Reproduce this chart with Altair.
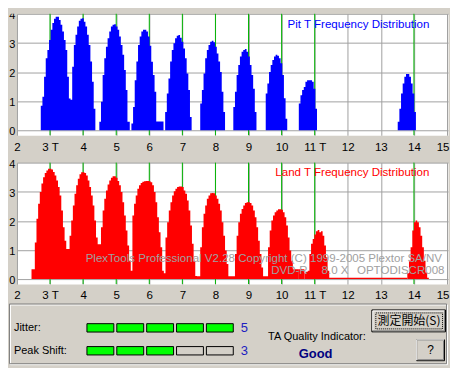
import altair as alt
import pandas as pd

# ---------------- data ----------------
STEP = 0.05                      # histogram bin width in T
T_TICKS = list(range(2, 16))
Y_TICKS = [0, 1, 2, 3, 4]
GREEN_T = [3, 4, 5, 6, 7, 8, 9, 10, 11, 14]

# Pit (blue) distribution: first-bin position (T), contiguous group, bin heights
PIT_START = [2.67, 3.67, 4.44, 5.41, 6.43, 7.49, 8.40, 8.49, 9.37, 9.47, 10.47, 13.46]
PIT_GROUP = [0, 0, 1, 2, 3, 4, 5, 6, 7, 8, 9, 10]
PIT_3T = [0, 0.84, 1.15, 1.84, 2.47, 2.76, 3.10, 3.45, 3.68, 3.83, 3.90, 3.90, 3.79, 3.62, 3.39, 3.10, 2.76, 1.84, 1.09, 1.05]
PIT_4T = [2.18, 2.93, 3.28, 3.56, 3.76, 3.83, 3.85, 3.73, 3.56, 3.28, 2.93, 2.36, 1.67, 0.74, 0]
PIT_5T = [0, 0.29, 0.98, 1.90, 2.47, 2.87, 3.16, 3.39, 3.56, 3.62, 3.64, 3.56, 3.45, 3.22, 2.93, 2.59, 2.07, 1.38, 0.29]
PIT_6T = [0, 0.23, 0.80, 1.72, 2.36, 2.93, 3.22, 3.39, 3.45, 3.45, 3.39, 3.22, 2.90, 2.35, 1.90, 1.32, 0.30]
PIT_7T = [0, 0.63, 1.26, 1.78, 2.36, 2.76, 2.99, 3.16, 3.25, 3.27, 3.18, 3.04, 2.81, 2.47, 1.95, 1.38, 0.46, 0]
PIT_8T = [0, 0.92, 1.38, 1.95, 2.47, 2.76, 2.93, 3.04, 3.07, 3.02, 2.87, 2.64, 2.36, 2.00, 1.32, 0.63, 0]
PIT_DOT_A = [0]
PIT_9T = [0, 0.80, 1.32, 1.90, 2.24, 2.53, 2.70, 2.76, 2.79, 2.70, 2.53, 2.24, 1.90, 1.43, 0.63, 0]
PIT_DOT_B = [0]
PIT_10T = [0, 1.26, 1.61, 2.00, 2.24, 2.41, 2.53, 2.59, 2.56, 2.47, 2.30, 1.90, 1.10, 0.40, 0]
PIT_11T = [0, 0.92, 1.20, 1.38, 1.49, 1.67, 1.72, 1.72, 1.72, 1.67, 1.43, 0.74, 0]
PIT_14T = [0, 0.29, 0.74, 1.26, 1.61, 1.84, 1.93, 1.93, 1.84, 1.61, 1.26, 0.63, 0]
PIT_BINS = [PIT_3T, PIT_4T, PIT_5T, PIT_6T, PIT_7T, PIT_8T, PIT_DOT_A, PIT_9T,
            PIT_DOT_B, PIT_10T, PIT_11T, PIT_14T]

# Land (red) distribution
LAND_START = [2.44, 3.59, 4.54, 5.49, 6.44, 7.44, 8.44, 9.49, 10.50, 10.69, 13.80]
LAND_GROUP = [0, 0, 0, 0, 0, 0, 0, 0, 1, 2, 3]
LAND_3T = [0.34, 0.34, 1.26, 2.07, 2.59, 2.99, 3.28, 3.50, 3.64, 3.73, 3.79, 3.79, 3.76, 3.68, 3.56, 3.39, 3.16, 2.87, 2.36, 1.78, 1.32, 1.03, 1.03]
LAND_4T = [1.49, 2.01, 2.53, 2.93, 3.22, 3.45, 3.60, 3.67, 3.67, 3.64, 3.56, 3.39, 3.16, 2.87, 2.53, 2.01, 1.43, 1.20, 1.20]
LAND_5T = [1.78, 2.36, 2.76, 3.04, 3.25, 3.39, 3.48, 3.53, 3.53, 3.48, 3.37, 3.22, 2.99, 2.64, 2.18, 1.67, 1.15, 0.63, 0.29]
LAND_6T = [2.18, 2.59, 2.87, 3.10, 3.22, 3.30, 3.34, 3.36, 3.37, 3.37, 3.36, 3.33, 3.22, 2.99, 2.64, 2.12, 1.61, 1.09, 0.29]
LAND_7T = [0.20, 1.43, 1.95, 2.36, 2.64, 2.87, 3.02, 3.10, 3.16, 3.18, 3.18, 3.16, 3.04, 2.93, 2.70, 2.36, 1.84, 1.21, 0.63, 0.11]
LAND_8T = [0.10, 0.10, 1.09, 1.78, 2.24, 2.53, 2.76, 2.87, 2.95, 2.96, 2.95, 2.87, 2.76, 2.59, 2.36, 1.95, 1.49, 0.98, 0.52, 0.10]
LAND_9T = [0.10, 0.10, 0.10, 0.86, 1.49, 1.95, 2.24, 2.41, 2.53, 2.61, 2.64, 2.64, 2.61, 2.53, 2.36, 2.12, 1.78, 1.32, 0.86, 0.40, 0.10]
LAND_10T = [0.10, 0.10, 1.09, 1.67, 2.01, 2.18, 2.30, 2.36, 2.40, 2.40, 2.38, 2.30, 2.12, 1.84, 1.43, 0.98, 0.63, 0.34]
LAND_DOT = [0.34, 0.34]
LAND_11T = [0.20, 0.25, 0.29, 0.86, 1.21, 1.38, 1.53, 1.64, 1.69, 1.61, 1.64, 1.49, 1.15, 0.75, 0.29, 0.05]
LAND_14T = [0.20, 0.63, 1.09, 1.67, 1.95, 2.01, 1.95, 1.78, 1.49, 1.09, 0.63, 0.23, 0.05]
LAND_BINS = [LAND_3T, LAND_4T, LAND_5T, LAND_6T, LAND_7T, LAND_8T, LAND_9T,
             LAND_10T, LAND_DOT, LAND_11T, LAND_14T]

# Quality indicator panel
ROW_NAMES = ["Jitter:", "Peak Shift:"]
ROW_LEVELS = [5, 3]
N_BOXES = 5
QUALITY = "Good"

PIT_TITLE = "Pit T Frequency Distribution"
LAND_TITLE = "Land T Frequency Distribution"
WATERMARK_1 = "PlexTools Professional V2.28 Copyright (C) 1999-2005 Plextor SA/NV"
WATERMARK_2 = ["DVD-R", "8.0 X", "OPTODISCR008"]

# ---------------- styling ----------------
BG = "#D4D0C8"
FONT = "Liberation Sans"
CJK = "Noto Sans CJK JP"
GRID = "#A0A0A0"
GREEN = "#00B400"
PW, PH = 433, 122
GAP = 27.5
UI_H = 55


def bins_df(starts, groups, lists):
    rows = []
    n = len(starts)
    for k, (s, g, vals) in enumerate(zip(starts, groups, lists)):
        for i, v in enumerate(vals):
            rows.append({"peak": g, "t": round(s + i * STEP, 4), "h": v})
        if k == n - 1 or groups[k + 1] != g:
            rows.append({"peak": g, "t": round(s + len(vals) * STEP, 4), "h": vals[-1]})
    return pd.DataFrame(rows)


ONE = pd.DataFrame({"k": [1]})
green_df = pd.DataFrame({"t": GREEN_T})

xs = alt.Scale(domain=[2, 15.03], nice=False, zero=False)
ys = alt.Scale(domain=[-0.17, 4], nice=False, zero=False)

xaxis = alt.Axis(values=T_TICKS, title=None, grid=True, gridColor=GRID, gridOpacity=1,
                 domain=False, ticks=False, labelPadding=6, labelFont=FONT,
                 labelFontSize=11.6, labelColor="black", labelFlush=False,
                 labelOverlap=False, labelBaseline="top",
                 labelAlign={"condition": {"test": "datum.value == 15", "value": "right"},
                             "value": "center"},
                 labelOffset={"condition": {"test": "datum.value == 15", "value": 2},
                              "value": 0},
                 labelExpr="(datum.value == 3 || datum.value == 11) ? datum.label + ' T' : datum.label")
yaxis = alt.Axis(values=Y_TICKS, title=None, grid=True, gridColor=GRID, gridOpacity=1,
                 domain=False, ticks=False, labelPadding=2, labelFont=FONT,
                 labelFontSize=11, labelColor="black", labelOffset=1.5, format="d",
                 labelFlush=False)


def txt(text, x, y, color="black", size=11.6, align="left", font=FONT, weight="normal"):
    return alt.Chart(ONE).mark_text(text=text, align=align, baseline="middle", color=color,
                                    fontSize=size, font=font, fontWeight=weight).encode(
        x=alt.value(x), y=alt.value(y))


def panel(df, color, title, title_y, extra, top_strip=False):
    layers = []
    if top_strip:
        layers.append(alt.Chart(ONE).mark_rect(color=BG).encode(
            x=alt.value(-8), x2=alt.value(PW), y=alt.value(-4), y2=alt.value(0)))
    layers.append(alt.Chart(green_df).mark_rule(color=GREEN, strokeWidth=1).encode(
        x=alt.X("t:Q", scale=xs, axis=xaxis)))
    layers.append(alt.Chart(df).mark_area(color=color, interpolate="step-after").encode(
        x=alt.X("t:Q", scale=xs, axis=xaxis),
        y=alt.Y("h:Q", scale=ys, axis=yaxis), y2=alt.value(PH),
        detail="peak:N"))
    layers += extra
    layers.append(txt(title, 414.3, title_y, color=color, align="right"))
    return alt.layer(*layers).properties(
        width=PW, height=PH, view=alt.ViewBackground(fill="white", stroke="transparent"))


top = panel(bins_df(PIT_START, PIT_GROUP, PIT_BINS), "#0000FF", PIT_TITLE, 11.3, [],
            top_strip=True)

wm = [
    txt(WATERMARK_1, 427, 96.8, color="#A0A0A0", align="right"),
    txt(WATERMARK_2[0], 273.7, 109.2, color="#A0A0A0", align="center"),
    txt(WATERMARK_2[1], 319.5, 109.2, color="#A0A0A0", align="center"),
    txt(WATERMARK_2[2], 385.5, 109.2, color="#A0A0A0", align="center"),
]
bottom = panel(bins_df(LAND_START, LAND_GROUP, LAND_BINS), "#FF0000", LAND_TITLE, 10.5, wm)

# ---------------- quality indicator panel ----------------
box_rows = []
for r, (name, lvl) in enumerate(zip(ROW_NAMES, ROW_LEVELS)):
    for i in range(N_BOXES):
        box_rows.append({"i": i, "i2": i + 0.9, "r": r, "r2": r + 0.365, "on": i < lvl})
boxes_df = pd.DataFrame(box_rows)
rows_df = pd.DataFrame({"r": [0.18, 1.18], "name": ROW_NAMES, "level": ROW_LEVELS})

bxs = alt.Scale(domain=[0, 5], range=[70.3, 220.3], nice=False, zero=False)
bys = alt.Scale(domain=[0, 1], range=[12.3, 35.3], nice=False, zero=False)


def rect(x1, x2, y1, y2, **kw):
    return alt.Chart(ONE).mark_rect(**kw).encode(
        x=alt.value(x1), x2=alt.value(x2), y=alt.value(y1), y2=alt.value(y2))


def hline(x1, x2, y, color):
    return alt.Chart(ONE).mark_rule(color=color, strokeWidth=1).encode(
        x=alt.value(x1), x2=alt.value(x2), y=alt.value(y))


def vline(x, y1, y2, color):
    return alt.Chart(ONE).mark_rule(color=color, strokeWidth=1).encode(
        x=alt.value(x), y=alt.value(y1), y2=alt.value(y2))


ui_layers = [
    rect(-8, 434, -8, UI_H, fill=BG),
    rect(-6.5, 432.5, -6.5, 53.5, filled=False, stroke="white", strokeWidth=1),
    rect(-7.5, 431.5, -7.5, 52.5, filled=False, stroke="#808080", strokeWidth=1),
    alt.Chart(boxes_df).mark_rect(stroke="black", strokeWidth=1).encode(
        x=alt.X("i:Q", scale=bxs, axis=None), x2="i2:Q",
        y=alt.Y("r:Q", scale=bys, axis=None), y2="r2:Q",
        fill=alt.condition(alt.datum.on, alt.value("#00FF00"), alt.value(BG))),
    alt.Chart(rows_df).mark_text(align="left", baseline="middle", font=FONT, fontSize=11,
                                 color="black").encode(
        x=alt.value(-3), y=alt.Y("r:Q", scale=bys, axis=None), text="name:N"),
    alt.Chart(rows_df).mark_text(align="center", baseline="middle", font=FONT, fontSize=13,
                                 color="#2020C0").encode(
        x=alt.value(228.3), y=alt.Y("r:Q", scale=bys, axis=None), text="level:Q"),
    txt("TA Quality Indicator:", 252.3, 25.6, size=11),
    txt(QUALITY, 300, 42.6, color="#000080", size=13, align="center", weight="bold"),
    # default button
    rect(356.5, 430.5, -1.5, 20.5, fill=BG, stroke="black", strokeWidth=1),
    hline(357.5, 429, -0.5, "white"),
    vline(357.5, -0.5, 19, "white"),
    hline(357.5, 429.5, 19.5, "#808080"),
    vline(429.5, -0.5, 19.5, "#808080"),
    rect(360.5, 427.5, 1.5, 17.5, filled=False, stroke="black", strokeWidth=1, strokeDash=[1, 1]),
    txt("測定開始(S)", 393.8, 9.3, size=12, align="center", font=CJK),
    # help button
    rect(401.5, 429.5, 28.5, 49.5, fill=BG, stroke="black", strokeWidth=1),
    hline(401.5, 429, 28.5, "white"),
    vline(401.5, 28.5, 49, "white"),
    hline(402.5, 428.5, 48.5, "#808080"),
    vline(428.5, 29.5, 48.5, "#808080"),
    txt("?", 415.5, 39, size=12, align="center"),
]
ui = alt.layer(*ui_layers).properties(
    width=PW, height=UI_H, view=alt.ViewBackground(fill="transparent", stroke="transparent"))

chart = alt.vconcat(top, bottom, ui, spacing=GAP, bounds="flush").properties(
    padding=0, background=BG
).configure_view(stroke="transparent")

chart.save("out.html", embed_options={"renderer": "svg", "actions": False})
